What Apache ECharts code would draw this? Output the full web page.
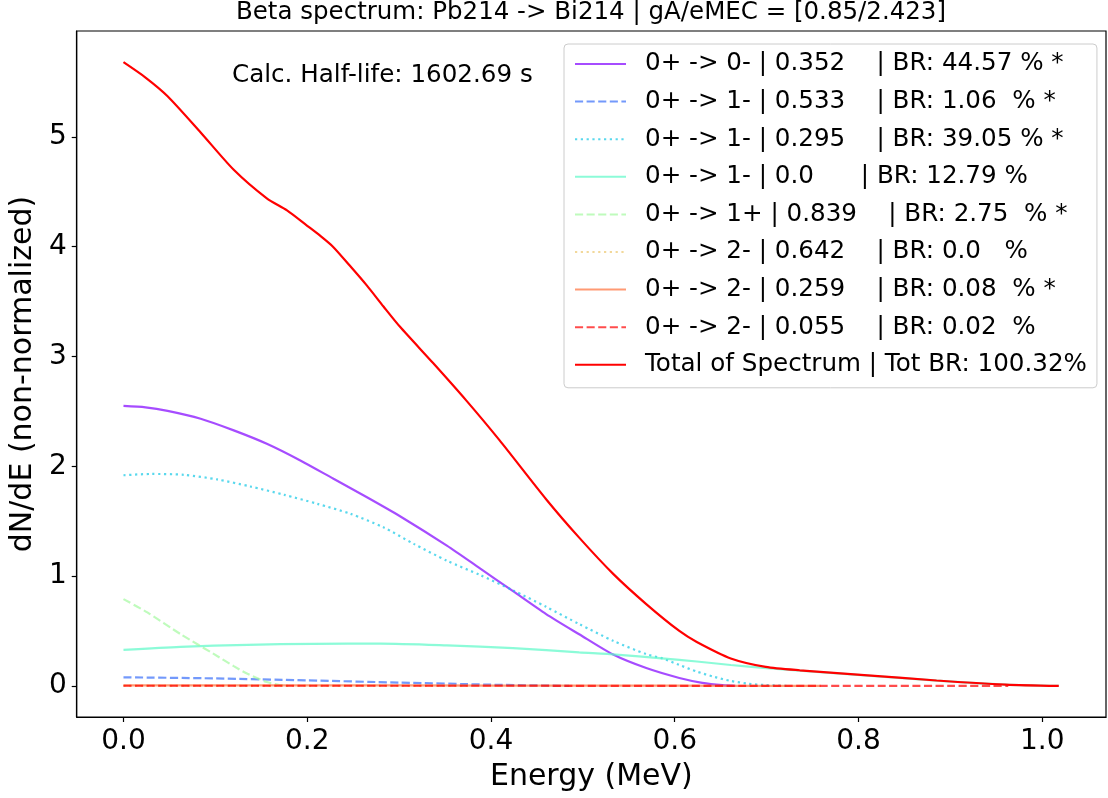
<!DOCTYPE html>
<html><head><meta charset="utf-8">
<script src="https://cdn.jsdelivr.net/npm/echarts@6/dist/echarts.min.js"></script>
<style>html,body{margin:0;padding:0;background:#fff}#c{width:1108px;height:798px}</style>
</head><body><div id="c"></div><script>
const FONT = 'DejaVu Sans';
const chartTitle = 'Beta spectrum: Pb214 -> Bi214 | gA/eMEC = [0.85/2.423]';
const halfLifeText = 'Calc. Half-life: 1602.69 s';
const xTicks = [0, 0.2, 0.4, 0.6, 0.8, 1.0];
const yTicks = [0, 1, 2, 3, 4, 5];
const seriesNames = [
  '0+ -> 0- | 0.352    | BR: 44.57 % *',
  '0+ -> 1- | 0.533    | BR: 1.06  % *',
  '0+ -> 1- | 0.295    | BR: 39.05 % *',
  '0+ -> 1- | 0.0      | BR: 12.79 %',
  '0+ -> 1+ | 0.839    | BR: 2.75  % *',
  '0+ -> 2- | 0.642    | BR: 0.0   %',
  '0+ -> 2- | 0.259    | BR: 0.08  % *',
  '0+ -> 2- | 0.055    | BR: 0.02  %',
  'Total of Spectrum | Tot BR: 100.32%'
];
// branch 0: 0+ -> 0- (0.352)
const e0 = [0, 0.024, 0.048, 0.084, 0.12, 0.156, 0.1925, 0.2286, 0.265, 0.301, 0.352, 0.388, 0.424, 0.46, 0.496, 0.533, 0.569, 0.605, 0.63, 0.652, 0.666];
const v0 = [2.55, 2.537, 2.505, 2.433, 2.327, 2.205, 2.053, 1.886, 1.718, 1.545, 1.277, 1.07, 0.862, 0.654, 0.47, 0.285, 0.162, 0.072, 0.028, 0.006, 0];
// branch 1: 0+ -> 1- (0.533)
const e1 = [0, 0.1, 0.2, 0.3, 0.4, 0.45, 0.485];
const v1 = [0.078, 0.068, 0.05, 0.03, 0.011, 0.004, 0];
// branch 2: 0+ -> 1- (0.295)
const e2 = [0, 0.03, 0.066, 0.102, 0.138, 0.175, 0.211, 0.247, 0.283, 0.316, 0.352, 0.388, 0.424, 0.46, 0.496, 0.533, 0.569, 0.5866, 0.605, 0.624, 0.643, 0.661, 0.68, 0.699, 0.723];
const v2 = [1.918, 1.93, 1.922, 1.88, 1.816, 1.74, 1.658, 1.567, 1.444, 1.293, 1.14, 1.01, 0.87, 0.72, 0.563, 0.41, 0.289, 0.25, 0.19, 0.13, 0.082, 0.045, 0.02, 0.007, 0];
// branch 3: 0+ -> 1- (0.0)
const e3 = [0, 0.062, 0.135, 0.207, 0.28, 0.352, 0.424, 0.496, 0.536, 0.586, 0.624, 0.661, 0.7, 0.736, 0.81, 0.885, 0.96, 1.018];
const v3 = [0.327, 0.356, 0.374, 0.383, 0.384, 0.368, 0.344, 0.305, 0.285, 0.25, 0.222, 0.19, 0.162, 0.138, 0.094, 0.048, 0.012, 0];
// branch 4: 0+ -> 1+ (0.839)
const e4 = [0, 0.026, 0.0624, 0.0986, 0.12, 0.135, 0.156, 0.17, 0.179];
const v4 = [0.79, 0.669, 0.47, 0.289, 0.18, 0.11, 0.035, 0.008, 0];
// branch 5: 0+ -> 2- (0.642)
const e5 = [0, 0.1, 0.2, 0.3, 0.376];
const v5 = [0, 0, 0, 0, 0];
// branch 6: 0+ -> 2- (0.259)
const e6 = [0, 0.2, 0.4, 0.6, 0.759];
const v6 = [0.004, 0.004, 0.003, 0.0015, 0];
// branch 7: 0+ -> 2- (0.055)
const e7 = [0, 0.3, 0.6, 0.9, 0.963];
const v7 = [0.001, 0.001, 0.0007, 0.0002, 0];
// total
const eT = [0, 0.024, 0.048, 0.084, 0.12, 0.156, 0.178, 0.2, 0.214, 0.228, 0.246, 0.265, 0.283, 0.301, 0.337, 0.373, 0.409, 0.46, 0.496, 0.533, 0.569, 0.605, 0.624, 0.661, 0.699, 0.736, 0.81, 0.885, 0.96, 1.018];
const vT = [5.68, 5.54, 5.37, 5.04, 4.70, 4.44, 4.33, 4.19, 4.10, 4.00, 3.83, 3.645, 3.455, 3.27, 2.94, 2.60, 2.24, 1.70, 1.35, 1.02, 0.745, 0.50, 0.40, 0.25, 0.173, 0.142, 0.096, 0.049, 0.012, 0];

const energies = [e0, e1, e2, e3, e4, e5, e6, e7, eT];
const values = [v0, v1, v2, v3, v4, v5, v6, v7, vT];
const colors = ['rgba(128,0,255,0.7)', 'rgba(55,110,249,0.7)', 'rgba(18,199,230,0.7)', 'rgba(91,249,199,0.7)',
  'rgba(164,249,159,0.7)', 'rgba(237,199,111,0.7)', 'rgba(255,111,57,0.7)', 'rgba(255,0,0,0.7)', '#ff0000'];
const LW = 2.2;
const DASH = [8.1, 3.5], DOT = [2.2, 3.6];
const styles = ['solid', DASH, DOT, 'solid', DASH, DOT, 'solid', DASH, 'solid'];

const series = seriesNames.map((name, i) => ({
  name, type: 'line', symbol: 'none', smooth: 0.25,
  data: energies[i].map((e, k) => [e, values[i][k]]),
  lineStyle: { color: colors[i], width: LW, type: styles[i] },
  itemStyle: { color: colors[i] },
  z: 2 + i
}));

const chart = echarts.init(document.getElementById('c'), null, { renderer: 'canvas' });
chart.setOption({
  animation: false,
  backgroundColor: '#fff',
  textStyle: { fontFamily: FONT },
  grid: { left: 76, right: 2, top: 31, bottom: 81, show: true, borderColor: '#000', borderWidth: 1.2, backgroundColor: 'transparent' },
  xAxis: {
    type: 'value', min: -0.0509, max: 1.0694,
    axisLine: { show: true, onZero: false, lineStyle: { color: '#000', width: 1.2 } },
    axisTick: { show: true, length: 5, customValues: xTicks, lineStyle: { color: '#000', width: 1.2 } },
    axisLabel: { customValues: xTicks, formatter: v => Number(v).toFixed(1), fontSize: 28, color: '#000', margin: 11, fontFamily: FONT },
    splitLine: { show: false },
    name: 'Energy (MeV)', nameLocation: 'middle', nameGap: 45,
    nameTextStyle: { fontSize: 30, color: '#000', fontFamily: FONT }
  },
  yAxis: {
    type: 'value', min: -0.2835, max: 5.964,
    axisLine: { show: true, onZero: false, lineStyle: { color: '#000', width: 1.2 } },
    axisTick: { show: true, length: 5, customValues: yTicks, lineStyle: { color: '#000', width: 1.2 } },
    axisLabel: { customValues: yTicks, formatter: v => String(Math.round(v)), fontSize: 28, color: '#000', margin: 10, fontFamily: FONT },
    splitLine: { show: false },
    name: 'dN/dE (non-normalized)', nameLocation: 'middle', nameGap: 30, nameRotate: 90,
    nameTextStyle: { fontSize: 30, color: '#000', fontFamily: FONT }
  },
  legend: {
    orient: 'vertical', left: 564, top: 44,
    data: seriesNames,
    itemWidth: 51, itemHeight: 14, itemGap: 9.6,
    padding: [6, 10, 9, 10],
    backgroundColor: 'rgba(255,255,255,0.8)', borderColor: '#cccccc', borderWidth: 1, borderRadius: 4,
    textStyle: { fontSize: 24.6, color: '#000', fontFamily: FONT, lineHeight: 28, padding: [0, 0, 0, 14] },
    lineStyle: { type: 'inherit' },
    itemStyle: { opacity: 0 },
    selectedMode: false
  },
  graphic: [
    { type: 'text', x: 591, y: 13, style: { text: chartTitle, font: '24.5px "DejaVu Sans"', fill: '#000', textAlign: 'center', textVerticalAlign: 'middle' } },
    { type: 'text', x: 232, y: 76, z: 10, style: { text: halfLifeText, font: '24.6px "DejaVu Sans"', fill: '#000', textAlign: 'left', textVerticalAlign: 'middle' } }
  ],
  series
});
</script></body></html>
